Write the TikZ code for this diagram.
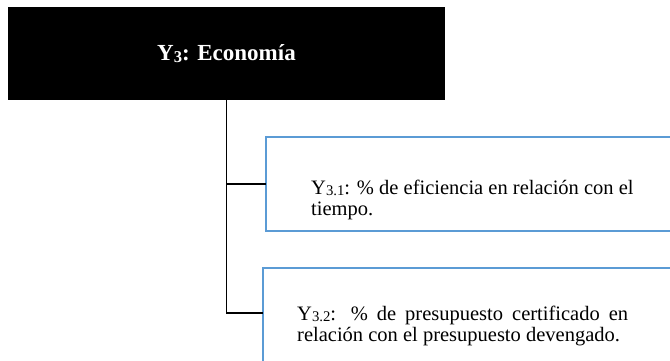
\documentclass[tikz,border=0pt]{standalone}
\usepackage{fontspec}
\setmainfont{Liberation Serif}
\usetikzlibrary{positioning}
\definecolor{boxblue}{RGB}{91,155,213}
\newcommand{\ysub}[1]{\raisebox{-0.2ex}{\scalebox{0.72}{#1}}}

\begin{document}
\begin{tikzpicture}[x=1pt,y=-1pt]

\tikzset{
  titlebox/.style={fill=black, text=white, font=\bfseries\fontsize{23}{26}\selectfont,
    minimum width=437pt, minimum height=93pt, inner sep=0pt, outer sep=0pt},
  itembox/.style={draw=boxblue, line width=2.5pt, minimum width=440pt,
    inner sep=0pt, outer sep=0pt, anchor=north west},
  itemtext/.style={font=\fontsize{20.5}{21}\selectfont, text width=#1,
    align=justify, inner sep=0pt, anchor=base west},
  link/.style={line width=1.5pt}
}

\useasboundingbox (0,0) rectangle (670,360);
\clip (0,0) rectangle (670,360);

\node[titlebox] (y3) at (226.5,53.5) {Y\ysub{3}: Economía};

\node[itembox, minimum height=94pt] (b1) at (266,137) {};
\node[itembox, minimum height=110pt] (b2) at (263,268) {};

\coordinate (j1) at (b1.west);
\coordinate (j2) at ([yshift=-45pt]b2.north west);

\node[itemtext=335pt] (t1) at (311,194)
  {Y\ysub{3.1}: \% de eficiencia en relación con el\\ tiempo.};
\node[itemtext=331pt] (t2) at (297,320)
  {Y\ysub{3.2}: \% de presupuesto certificado en\linebreak relación con el presupuesto devengado.};

\draw[link] (y3.south) -- (y3.south |- j2) -- (j2);
\draw[link] (y3.south |- j1) -- (j1);

\end{tikzpicture}
\end{document}
